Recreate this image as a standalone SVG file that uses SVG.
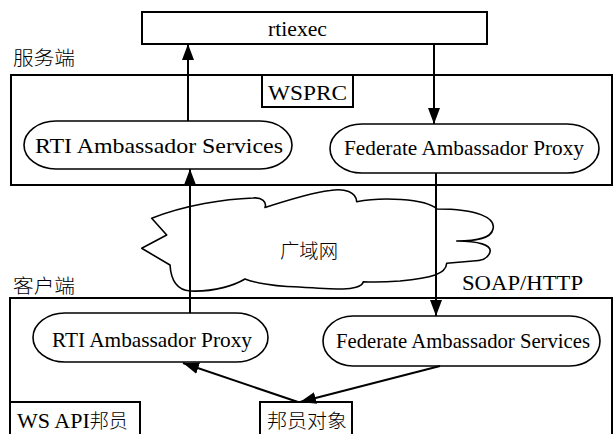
<svg xmlns="http://www.w3.org/2000/svg" width="615" height="434" viewBox="0 0 615 434">
  <style>
    .box { fill: none; stroke: #000; stroke-width: 2; }
    .node { fill: #fff; stroke: #000; stroke-width: 1.6; }
    .cloud { fill: #fff; stroke: #000; stroke-width: 1.6; stroke-linejoin: round; }
    .lat { font-family: "Liberation Serif", "Times New Roman", serif; font-size: 22px; fill: #000; }
    .cjk { font-family: "Noto Sans CJK SC", sans-serif; font-size: 19px; font-weight: 300; fill: #000; }
    .link { fill: none; stroke: #000; stroke-width: 2; }
  </style>
  <defs>
    <marker id="arrow" markerUnits="userSpaceOnUse" markerWidth="16" markerHeight="12" viewBox="0 0 16 12" refX="16" refY="6" orient="auto">
      <path d="M0,0 L16,6 L0,12 Z" fill="#000"/>
    </marker>
  </defs>

  <rect width="615" height="434" fill="#fff"/>

  <!-- RTI executive -->
  <g id="rtiexec">
    <rect class="box" x="142" y="12" width="345" height="32"/>
    <text class="lat" x="268" y="36" textLength="59" lengthAdjust="spacingAndGlyphs">rtiexec</text>
  </g>

  <!-- server side -->
  <g id="server">
    <text class="cjk" x="13" y="65" font-size="20" textLength="62" lengthAdjust="spacingAndGlyphs">服务端</text>
    <rect class="box" x="11" y="75" width="601" height="110"/>
  </g>
  <g id="wsprc">
    <rect class="box" x="262" y="75" width="91" height="32"/>
    <text class="lat" x="268" y="100" font-size="23" textLength="79" lengthAdjust="spacingAndGlyphs">WSPRC</text>
  </g>
  <g id="rti-services">
    <rect class="node" x="24" y="121" width="268" height="48" rx="32" ry="24"/>
    <text class="lat" x="35" y="153" font-size="23.5" textLength="248" lengthAdjust="spacingAndGlyphs">RTI Ambassador Services</text>
  </g>
  <g id="fed-proxy">
    <rect class="node" x="330" y="124" width="269" height="49" rx="32" ry="24.5"/>
    <text class="lat" x="344" y="155" font-size="21.2" textLength="240" lengthAdjust="spacingAndGlyphs">Federate Ambassador Proxy</text>
  </g>

  <!-- wide-area network -->
  <g id="wan">
    <path class="cloud" d="M151.7,218.3 C185,205 225,199 253,198 C262,197 267,202 265,207.5 C285,201 310,193 330,190.5 C345,188 356,192 356.7,201.7 C380,197 425,198 437,209 C478,209 496,218 493,229 C491,239 475,241 456.7,241 C478,241 492,245 490,252 C488,259 480,261 473,261 L446.7,263.3 C446,274 432,278 400,281 C385,282 370,282 363.3,281.7 C362,287 352,289 343,289 C330,289 300,287 287,286.5 C275,286 255,283 245,279 C235,285 215,292 190,291 C176,290 171,280 170,265 L141.7,248.3 L166.7,235 Z"/>
    <text class="cjk" x="280" y="258" textLength="58" lengthAdjust="spacingAndGlyphs">广域网</text>
  </g>

  <!-- client side -->
  <g id="client">
    <text class="cjk" x="13" y="293" font-size="20" textLength="62" lengthAdjust="spacingAndGlyphs">客户端</text>
    <text class="lat" x="462" y="290" font-size="22" textLength="121" lengthAdjust="spacingAndGlyphs">SOAP/HTTP</text>
    <rect class="box" x="10" y="298" width="602" height="150"/>
  </g>
  <g id="rti-proxy">
    <rect class="node" x="33" y="313" width="235" height="49" rx="32" ry="24.5"/>
    <text class="lat" x="52" y="347" font-size="21" textLength="200" lengthAdjust="spacingAndGlyphs">RTI Ambassador Proxy</text>
  </g>
  <g id="fed-services">
    <rect class="node" x="323" y="316" width="277" height="50" rx="30" ry="25"/>
    <text class="lat" x="336" y="348" font-size="20.6" textLength="254" lengthAdjust="spacingAndGlyphs">Federate Ambassador Services</text>
  </g>
  <g id="ws-api-federate">
    <rect class="box" x="10" y="402" width="130" height="50"/>
    <text x="17" y="428"><tspan class="lat" font-size="22">WS API</tspan><tspan class="cjk" font-size="20">邦员</tspan></text>
  </g>
  <g id="federate-object">
    <rect class="box" x="260" y="402" width="92" height="50"/>
    <text class="cjk" x="267" y="428" font-size="20" textLength="80" lengthAdjust="spacingAndGlyphs">邦员对象</text>
  </g>

  <!-- connectors -->
  <g id="connectors">
    <line class="link" x1="188" y1="121" x2="188" y2="44" marker-end="url(#arrow)"/>
    <line class="link" x1="434" y1="44" x2="434" y2="124" marker-end="url(#arrow)"/>
    <line class="link" x1="190" y1="313" x2="190" y2="169" marker-end="url(#arrow)"/>
    <line class="link" x1="436" y1="173" x2="436" y2="316" marker-end="url(#arrow)"/>
    <line class="link" x1="298" y1="402" x2="183" y2="363" marker-end="url(#arrow)"/>
    <line class="link" x1="440" y1="366" x2="300" y2="402" marker-end="url(#arrow)"/>
  </g>
</svg>
